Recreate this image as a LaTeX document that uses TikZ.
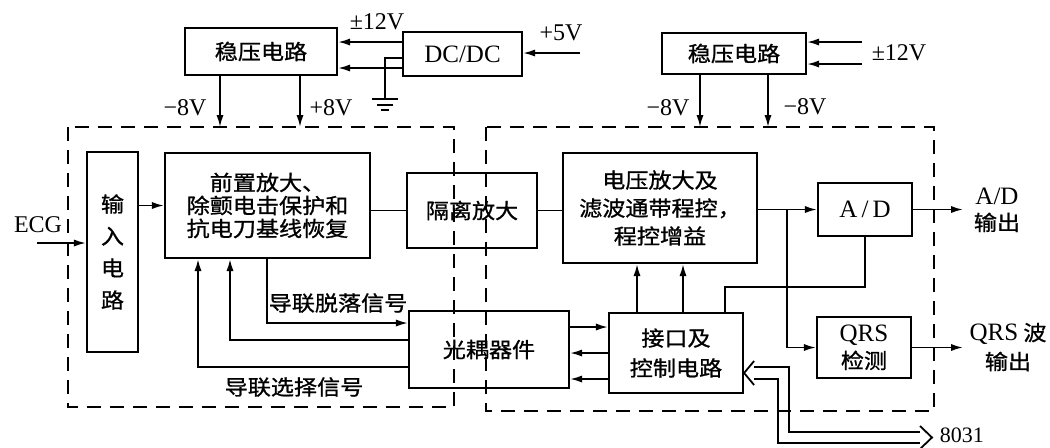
\documentclass[tikz,border=0pt]{standalone}
\usepackage{fontspec}
\setmainfont{Liberation Serif}
\newfontfamily\cjk[FakeStretch=1.1,FakeBold=1]{Noto Sans CJK SC}
\usetikzlibrary{arrows.meta,calc}

\begin{document}
\begin{tikzpicture}[x=0.5pt,y=-0.5pt,line width=0.9pt,font=\cjk\fontsize{10.5}{14}\selectfont,
  blk/.style={draw,line width=1.1pt,inner sep=0pt,align=center},
  arr/.style={-{Latex[length=6pt,width=3.6pt]}},
  rarr/.style={{Latex[length=6pt,width=3.6pt]}-},
  en/.style={font=\rmfamily\fontsize{12}{13}\selectfont},
  enb/.style={font=\rmfamily\fontsize{12.5}{13.5}\selectfont},
  fence/.style={dash pattern=on 7pt off 4.5pt,line width=1pt}]
 \useasboundingbox (0,0) rectangle (1050,447);
 \draw[fence] (68,127) rectangle (454,407) (486,127) rectangle (934,411);
 \node[blk,minimum width=76pt,minimum height=23.5pt] (reg1) at (261,51.5) {稳压电路};
 \node[blk,enb,minimum width=59.5pt,minimum height=22pt] (dcdc) at (462.5,54) {DC/DC};
 \node[blk,minimum width=72pt,minimum height=20.5pt] (reg2) at (734,53.5) {稳压电路};
 \node[blk,minimum width=25.5pt,minimum height=100pt,font=\cjk\fontsize{10.5}{16}\selectfont] (inp) at (112.5,252) {输\\入\\电\\路};
 \node[blk,minimum width=102.5pt,minimum height=52.5pt,font=\cjk\fontsize{10.5}{11.5}\selectfont] (pre) at (267.5,205.5) {前置放大、\\除颤电击保护和\\抗电刀基线恢复};
 \node[blk,minimum width=65pt,minimum height=37.5pt] (iso) at (472,210.5) {隔离放大};
 \node[blk,minimum width=97pt,minimum height=55pt] (vamp) at (660,208) {电压放大及\\滤波通带程控，\\程控增益};
 \node[blk,enb,minimum width=47pt,minimum height=26.5pt] (ad) at (865,209.5) {A\,/\,D};
 \node[blk,minimum width=47pt,minimum height=30.5pt,font=\cjk\fontsize{10.5}{13.5}\selectfont] (qrs) at (864,347.5) {{\rmfamily\fontsize{12.5}{13.5}\selectfont QRS}\\检测};
 \node[blk,minimum width=80pt,minimum height=38.5pt] (opto) at (489,349.5) {光耦器件};
 \node[blk,minimum width=67pt,minimum height=40pt,font=\cjk\fontsize{10.5}{15}\selectfont] (ifc) at (676,353) {接口及\\控制电路};

 \coordinate (vA) at (220,127); \coordinate (vB) at (300,127);
 \coordinate (vC) at (700,127); \coordinate (vD) at (768,127);
 \foreach \v/\r in {vA/reg1,vB/reg1,vC/reg2,vD/reg2} \draw[arr] (\r.south -| \v) -- (\v);
 \foreach \dy in {6,-7} \draw[arr] ([yshift=\dy pt]dcdc.west) -- ([yshift=\dy pt]dcdc.west -| reg1.east);
 \coordinate (p5) at (580,53); \draw[arr] (p5) -- (p5 -| dcdc.east);
 \coordinate (gnd) at (385,99); \draw ([yshift=-2pt]dcdc.west) -| (gnd);
 \draw (gnd) ++(-13,0) -- ++(26,0) (gnd) ++(-8,6) -- ++(16,0) (gnd) ++(-4,11) -- ++(8,0);
 \coordinate (p12a) at (862,42); \coordinate (p12b) at (862,64);
 \foreach \p in {p12a,p12b} \draw[arr] (\p) -- (\p -| reg2.east);

 \coordinate (ecg) at (37,243); \draw[arr] (ecg) -- (ecg -| inp.west);
 \draw[arr] (pre.west -| inp.east) -- (pre.west);
 \draw (pre.east |- iso.west) -- (iso.west);
 \draw (iso.east) -- (iso.east -| vamp.west);
 \draw[arr] (ad.west -| vamp.east) -- (ad.west);
 \coordinate (br) at (787,209.5); \draw[arr] (br) |- (qrs.west);
 \coordinate (adout) at (963,209.5); \draw[arr] (ad.east) -- (adout);
 \draw[arr] (qrs.east) -- (qrs.east -| adout);
 \coordinate (adc) at (725,287); \draw (ad.south) |- (adc) -- (adc |- ifc.north);
 \foreach \c in {637,683} \draw[arr] (\c,0 |- ifc.north) -- (\c,0 |- vamp.south);
 \foreach \dy/\s in {11.25/arr,-1.75/rarr,-14.75/rarr}
  \draw[\s] ([yshift=\dy pt]opto.east) -- ([yshift=\dy pt]opto.east -| ifc.west);
 \coordinate (lo) at (267,323); \draw[arr] (pre.south -| lo) |- (opto.west |- lo);
 \coordinate (ls1) at (230,340); \coordinate (ls2) at (198,367);
 \foreach \p in {ls1,ls2} \draw[arr] (opto.west |- \p) -| (pre.south -| \p);

 \coordinate (bu) at (789,432); \coordinate (bl) at (778,443); \coordinate (mcu) at (932,437.5);
 \draw ([shift={(10,14)}]ifc.east) -| (bu) -- ([xshift=-6pt]bu -| mcu);
 \draw ([shift={(10,26)}]ifc.east) -| (bl) -- ([xshift=-6pt]bl -| mcu);
 \draw ([shift={(10,8)}]ifc.east) -- ([shift={(0,20)}]ifc.east) -- ([shift={(10,32)}]ifc.east);
 \draw ([shift={(-12,-11.5)}]mcu) -- (mcu) -- ([shift={(-12,11.5)}]mcu);

 \node[en] (t12a) at (377,22) {±12V};
 \node[en] (t5) at (561,33) {+5V};
 \node[en] (t8a) at (185,108) {−8V};
 \node[en] (t8b) at (331,108) {+8V};
 \node[en] (t8c) at (668,108) {−8V};
 \node[en] (t8d) at (805,107) {−8V};
 \node[en] (t12b) at (899,53) {±12V};
 \node[en] (tecg) at (38,225) {ECG};
 \node (tlo) at (338,303) {导联脱落信号};
 \node (tls) at (294,387) {导联选择信号};
 \node[align=center,font=\cjk\fontsize{10.5}{13}\selectfont] (tad) at (997,210) {{\rmfamily\fontsize{12.5}{13}\selectfont A/D}\\输出};
 \node[align=center,font=\cjk\fontsize{10.5}{14.5}\selectfont] (tqrs) at (1008,347) {{\rmfamily\fontsize{12.5}{13}\selectfont QRS} 波\\输出};
 \node[en,anchor=west,inner sep=0.5pt,font=\rmfamily\fontsize{11}{12}\selectfont] (t8031) at ([shift={(6,-2)}]mcu) {8031};
\end{tikzpicture}
\end{document}
